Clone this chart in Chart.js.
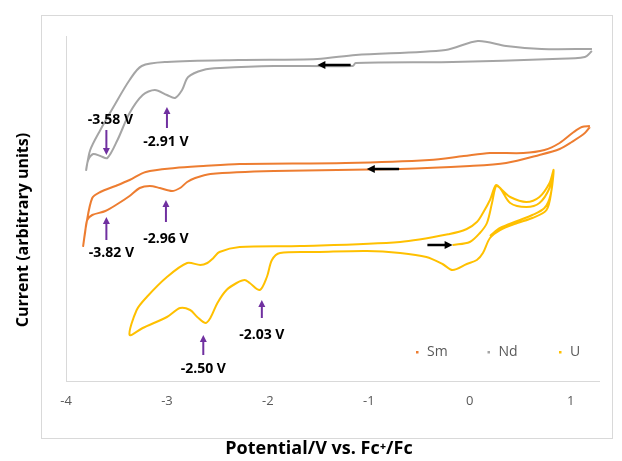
<!DOCTYPE html>
<html>
<head>
<meta charset="utf-8">
<script src="https://cdn.jsdelivr.net/npm/chart.js@4.4.1/dist/chart.umd.min.js"></script>
<style>
  body { margin: 0; background: #fff; }
  #wrap { position: relative; width: 622px; height: 461px; }
  #frame { position: absolute; left: 41px; top: 15px; width: 570px; height: 422px; border: 1px solid #d9d9d9; }
  #cv { position: absolute; left: 0; top: 0; }
</style>
</head>
<body>
<div id="wrap">
  <div id="frame"></div>
  <canvas id="cv" width="622" height="461"></canvas>
</div>
<script>
// potential (V vs Fc+/Fc) and current (arbitrary units)
const potentialTicks = [-4, -3, -2, -1, 0, 1];
const seriesNames = ['Sm', 'Nd', 'U'];

const smX = [1.19, 1.14, 1.01, 0.89, 0.69, 0.36, 0.00, -0.69, -1.94, -2.57,
  -2.72, -2.80, -2.87, -2.95, -3.07, -3.17, -3.27, -3.37, -3.49, -3.61,
  -3.74, -3.79, -3.81, -3.83,
  -3.80, -3.74, -3.66, -3.51, -3.37, -3.21, -2.92, -2.64, -2.28, -1.23,
  -0.40, -0.06, 0.20, 0.53, 0.74, 0.89, 1.03, 1.11, 1.19];
const smY = [254, 248, 239, 232, 226, 218, 215, 212, 210, 207,
  203, 199, 193, 190, 193, 195, 193, 185, 177, 170,
  166, 161, 149, 135,
  156, 183, 189, 195, 201, 209, 213, 215, 217, 218,
  221, 225, 228, 228, 231, 238, 249, 254, 255];

const ndX = [1.21, 1.14, 0.82, -0.17, -1.13, -1.16, -1.94, -2.47, -2.64, -2.79,
  -2.85, -2.92, -3.00, -3.12, -3.24, -3.37, -3.49, -3.59, -3.66, -3.73,
  -3.78, -3.80,
  -3.76, -3.66, -3.53, -3.37, -3.25, -3.00, -2.29, -1.51, -1.13, -0.24,
  0.08, 0.36, 0.71, 1.21];
const ndY = [330, 324, 322, 319, 318, 315, 315, 313, 311, 304,
  291, 283, 286, 291, 286, 268, 241, 223, 225, 227,
  221, 211,
  231, 251, 274, 301, 315, 319, 321, 322, 326, 331,
  340, 335, 332, 332];

const uX = [-0.17, 0.00, 0.10, 0.17, 0.22, 0.26, 0.30, 0.40, 0.56, 0.69, 0.79, 0.83,
  0.81, 0.76, 0.62, 0.47, 0.30, 0.20, 0.13, 0.07, -0.03, -0.17,
  -0.27, -0.43, -0.69, -1.02, -1.49, -1.88, -1.96, -2.01, -2.08, -2.18,
  -2.23, -2.31, -2.41, -2.50, -2.57, -2.62, -2.70, -2.77, -2.87, -3.00,
  -3.24, -3.37,
  -3.30, -3.20, -3.00, -2.80, -2.67, -2.60, -2.54, -2.48, -2.28, -1.68,
  -0.69, -0.20, -0.03, 0.07, 0.13, 0.20, 0.26, 0.32, 0.40, 0.56,
  0.69, 0.79, 0.83,
  0.80, 0.74, 0.62, 0.47, 0.30, 0.20];
const uY = [136, 139, 148, 158, 178, 195, 193, 178, 174, 178, 193, 211,
  191, 171, 163, 158, 151, 143, 128, 121, 117, 111,
  117, 124, 128, 130, 129, 128, 121, 104, 91, 98,
  101, 98, 91, 78, 63, 58, 64, 71, 73, 64,
  53, 46,
  71, 84, 104, 118, 116, 118, 123, 129, 134, 135,
  139, 147, 152, 159, 168, 181, 196, 191, 184, 179,
  184, 198, 211,
  186, 173, 166, 160, 153, 145];

// peak annotations (purple arrows) in data units
const peakLabels = ['-3.58 V', '-2.91 V', '-3.82 V', '-2.96 V', '-2.50 V', '-2.03 V'];
const peakArrowX = [-3.60, -3.00, -3.60, -3.01, -2.64, -2.06];
const peakArrowFrom = [251, 253, 141, 159, 26, 63];
const peakArrowTo = [226, 274, 164, 181, 46, 81];
const peakLabelX = [-3.56, -3.01, -3.55, -3.01, -2.64, -2.06];
const peakLabelY = [261, 239, 128, 142, 12, 46];

// scan direction arrows (black)
const scanArrowFrom = [-1.18, -0.70, -0.42];
const scanArrowTo = [-1.51, -1.02, -0.17];
const scanArrowY = [316, 212, 136];

const colors = ['#ed7d31', '#a5a5a5', '#ffc000'];
const FONT = '"Open Sans", "DejaVu Sans", sans-serif';

function toPoints(xs, ys) {
  return xs.map((x, i) => ({ x: x, y: ys[i] }));
}

function drawArrow(ctx, x1, y1, x2, y2, color, width, head) {
  const ang = Math.atan2(y2 - y1, x2 - x1);
  ctx.save();
  ctx.strokeStyle = color;
  ctx.fillStyle = color;
  ctx.lineWidth = width;
  ctx.beginPath();
  ctx.moveTo(x1, y1);
  ctx.lineTo(x2 - Math.cos(ang) * head * 0.8, y2 - Math.sin(ang) * head * 0.8);
  ctx.stroke();
  ctx.beginPath();
  ctx.moveTo(x2, y2);
  ctx.lineTo(x2 - Math.cos(ang) * head - Math.sin(ang) * head * 0.5, y2 - Math.sin(ang) * head + Math.cos(ang) * head * 0.5);
  ctx.lineTo(x2 - Math.cos(ang) * head + Math.sin(ang) * head * 0.5, y2 - Math.sin(ang) * head - Math.cos(ang) * head * 0.5);
  ctx.closePath();
  ctx.fill();
  ctx.restore();
}

const extrasPlugin = {
  id: 'extras',
  afterDatasetsDraw(chart) {
    const { ctx, chartArea, scales: { x, y } } = chart;

    peakLabels.forEach((label, i) => {
      const px = x.getPixelForValue(peakArrowX[i]);
      drawArrow(ctx, px, y.getPixelForValue(peakArrowFrom[i]), px, y.getPixelForValue(peakArrowTo[i]), '#7030a0', 2, 7);
      ctx.save();
      ctx.font = 'bold 14px ' + FONT;
      ctx.fillStyle = '#000';
      ctx.textAlign = 'center';
      ctx.textBaseline = 'middle';
      ctx.fillText(label, x.getPixelForValue(peakLabelX[i]), y.getPixelForValue(peakLabelY[i]));
      ctx.restore();
    });

    scanArrowY.forEach((v, i) => {
      const py = y.getPixelForValue(v);
      drawArrow(ctx, x.getPixelForValue(scanArrowFrom[i]), py, x.getPixelForValue(scanArrowTo[i]), py, '#000', 2.5, 8);
    });

    // legend, bottom right inside the plot
    ctx.save();
    ctx.font = '14px ' + FONT;
    ctx.textBaseline = 'middle';
    const ly = chartArea.bottom - 29;
    chart.data.datasets.forEach((ds, i) => {
      const lx = chartArea.left + 351 + i * 71.5;
      ctx.fillStyle = ds.borderColor;
      ctx.fillRect(lx - 1, ly - 1, 2.5, 2.5);
      ctx.fillStyle = '#595959';
      ctx.fillText(ds.label, lx + 10, ly);
    });
    ctx.restore();

    // axis titles
    ctx.save();
    ctx.fillStyle = '#000';
    ctx.textAlign = 'center';
    ctx.textBaseline = 'middle';
    ctx.font = 'bold 18px ' + FONT;
    ctx.fillText('Potential/V vs. Fc\u207A/Fc', 319, 449);
    ctx.font = 'bold 16px ' + FONT;
    ctx.translate(23, 230);
    ctx.rotate(-Math.PI / 2);
    ctx.fillText('Current (arbitrary units)', 0, 0);
    ctx.restore();
  }
};

const seriesX = [smX, ndX, uX];
const seriesY = [smY, ndY, uY];

new Chart(document.getElementById('cv'), {
  type: 'scatter',
  data: {
    datasets: seriesNames.map((name, i) => ({
      label: name,
      data: toPoints(seriesX[i], seriesY[i]),
      showLine: true,
      borderColor: colors[i],
      backgroundColor: colors[i],
      borderWidth: 2,
      pointRadius: 0,
      tension: 0.3,
      borderJoinStyle: 'round'
    }))
  },
  options: {
    responsive: false,
    animation: false,
    layout: { padding: { left: 0, right: 23, top: 36, bottom: 0 } },
    plugins: {
      legend: { display: false },
      tooltip: { enabled: false }
    },
    scales: {
      x: {
        type: 'linear',
        min: -4,
        max: 1.28,
        afterBuildTicks: (scale) => {
          scale.ticks = potentialTicks.map(v => ({ value: v }));
        },
        afterFit: (scale) => { scale.height = 80; },
        grid: { display: false, drawTicks: false },
        border: { display: true, color: '#d9d9d9', width: 1 },
        ticks: { color: '#595959', font: { family: FONT, size: 13 }, padding: 12 }
      },
      y: {
        type: 'linear',
        min: 0,
        max: 345,
        afterFit: (scale) => { scale.width = 66; },
        grid: { display: false, drawTicks: false },
        border: { display: true, color: '#d9d9d9', width: 1 },
        ticks: { display: false }
      }
    }
  },
  plugins: [extrasPlugin]
});
</script>
</body>
</html>
